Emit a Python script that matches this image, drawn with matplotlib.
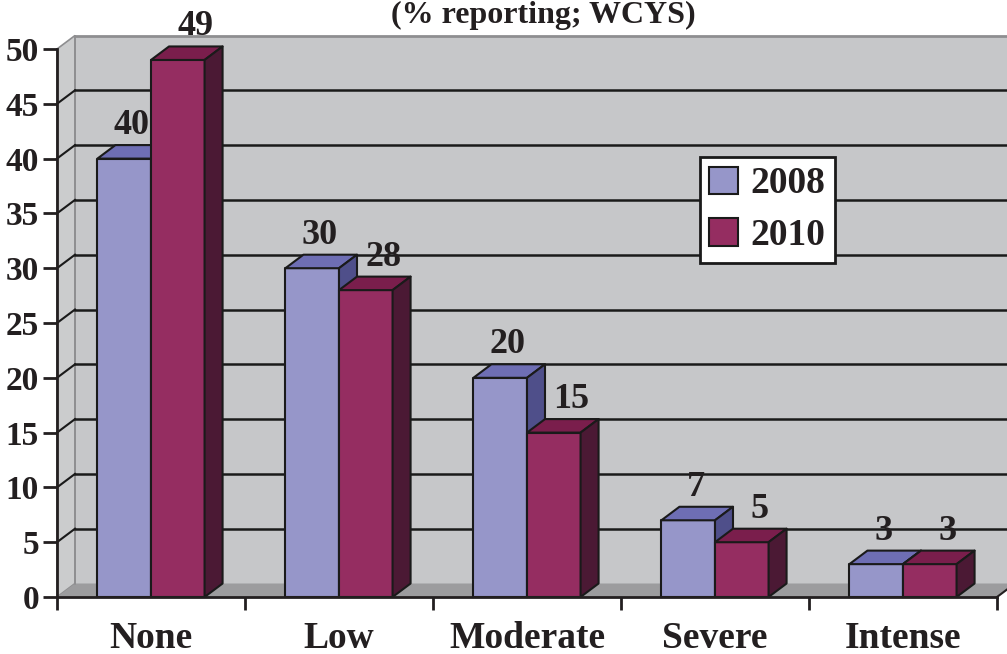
import matplotlib.pyplot as plt
from matplotlib.patches import Polygon, Rectangle, Patch

# Share of respondents by level, two survey years
categories = ['None', 'Low', 'Moderate', 'Severe', 'Intense']
years = ['2008', '2010']
values_2008 = [40, 30, 20, 7, 3]
values_2010 = [49, 28, 15, 5, 3]
y_ticks = list(range(0, 51, 5))

plt.rcParams['font.family'] = ['Liberation Serif', 'DejaVu Serif']
plt.rcParams['font.weight'] = 'bold'
TXT = '#231f20'

# face, top, side shades for each series
shades = {
    '2008': ('#9696c9', '#6e6eb4', '#4f4f8a'),
    '2010': ('#952d61', '#7a1e4c', '#4b1934'),
}

W, H = 1007, 654
fig = plt.figure(figsize=(W / 100, H / 100), dpi=100)
ax = fig.add_axes([57 / W, 57 / H, 940 / W, 548 / H])
ax.set_xlim(0, 5)
ax.set_ylim(0, 50)

# depth of the pseudo-3D box in data units
dx, dy = 18 / 188, 13.5 / 10.96
bw = 0.285
ymax = y_ticks[-1]
nx = len(categories)

# back wall, side wall, floor
ax.add_patch(Polygon([(dx, dy), (nx + dx + 1, dy), (nx + dx + 1, ymax + dy), (dx, ymax + dy)],
                     closed=True, fc='#c6c7c9', ec='none', zorder=0, clip_on=False))
ax.add_patch(Polygon([(0, 0), (dx, dy), (dx, ymax + dy), (0, ymax)],
                     closed=True, fc='#cbcccd', ec='#8e8e90', lw=1.2, zorder=0.5, clip_on=False))
ax.add_patch(Polygon([(0, 0), (nx, 0), (nx + dx, dy), (dx, dy)],
                     closed=True, fc='#9c9c9e', ec='none', zorder=1, clip_on=False))
ax.plot([dx, nx + dx + 1], [ymax + dy, ymax + dy], color='#8e8e90', lw=2, zorder=1, clip_on=False)
ax.plot([dx, dx], [dy, ymax + dy], color='#8e8e90', lw=1.2, zorder=1, clip_on=False)
ax.plot([nx, nx + dx], [0, dy], color=TXT, lw=1.5, zorder=1, clip_on=False)

for v in y_ticks[1:-1]:
    ax.plot([dx, nx + dx + 1], [v + dy, v + dy], color='#1a1a1a', lw=1.8, zorder=1.2, clip_on=False)
    ax.plot([0, dx], [v, v + dy], color='#1a1a1a', lw=1.5, zorder=1.2, clip_on=False)


def bar3d(x0, h, cols, z):
    face, top, side = cols
    kw = dict(ec='#1a1a1a', lw=1.5, clip_on=False, joinstyle='round')
    ax.add_patch(Rectangle((x0, 0), bw, h, fc=face, zorder=z, **kw))
    ax.add_patch(Polygon([(x0, h), (x0 + bw, h), (x0 + bw + dx, h + dy), (x0 + dx, h + dy)],
                         closed=True, fc=top, zorder=z, **kw))
    ax.add_patch(Polygon([(x0 + bw, 0), (x0 + bw + dx, dy), (x0 + bw + dx, h + dy), (x0 + bw, h)],
                         closed=True, fc=side, zorder=z, **kw))


for i in range(nx):
    c = i + 0.5
    for j, (yr, vals) in enumerate(zip(years, [values_2008, values_2010])):
        x0 = c - bw + j * bw
        h = vals[i]
        bar3d(x0, h, shades[yr], 3 + i * 2 + j)
        ax.annotate(str(h), xy=(x0 + bw / 2 + dx / 2, h + dy),
                    xytext=(7 * j - 1, 17), textcoords='offset points',
                    ha='center', va='center_baseline', fontsize=26, color=TXT,
                    fontweight='bold', annotation_clip=False, zorder=20)

# axes lines and ticks
for s in ['top', 'right']:
    ax.spines[s].set_visible(False)
for s in ['left', 'bottom']:
    ax.spines[s].set_color(TXT)
    ax.spines[s].set_linewidth(2)
    ax.spines[s].set_zorder(15)

ax.set_yticks(y_ticks)
ax.set_yticklabels([str(v) for v in y_ticks], fontsize=24, color=TXT, fontweight='bold')
ax.tick_params(axis='y', direction='out', length=10, width=2, color=TXT, pad=3)

ax.set_xticks(range(nx + 1))
ax.set_xticklabels([])
ax.set_xticks([i + 0.5 for i in range(nx)], minor=True)
ax.set_xticklabels(categories, minor=True, fontsize=27, color=TXT, fontweight='bold')
ax.tick_params(axis='x', which='major', direction='out', length=9, width=2, color=TXT)
ax.tick_params(axis='x', which='minor', length=0, pad=17)
ax.set_facecolor('none')

handles = [Patch(fc=shades[y][0], ec='#1a1a1a', lw=1.5, label=y) for y in years]
leg = ax.legend(handles=handles, loc='upper left',
                bbox_to_anchor=(700 / W, 1 - 157 / H), bbox_transform=fig.transFigure,
                prop={'family': 'Liberation Serif', 'weight': 'bold', 'size': 27},
                frameon=True, fancybox=False, edgecolor='#1a1a1a', framealpha=1,
                borderaxespad=0, borderpad=0.25, handlelength=0.75, handleheight=0.75,
                handletextpad=0.35, labelspacing=0.45)
leg.get_frame().set_linewidth(2)
leg.set_zorder(30)
for t in leg.get_texts():
    t.set_color(TXT)

fig.text(543 / W, 1 - 1 / H, '(% reporting; WCYS)', ha='center', va='top',
         fontsize=23, fontweight='bold', color=TXT)

fig.savefig('out.png', dpi=100)
